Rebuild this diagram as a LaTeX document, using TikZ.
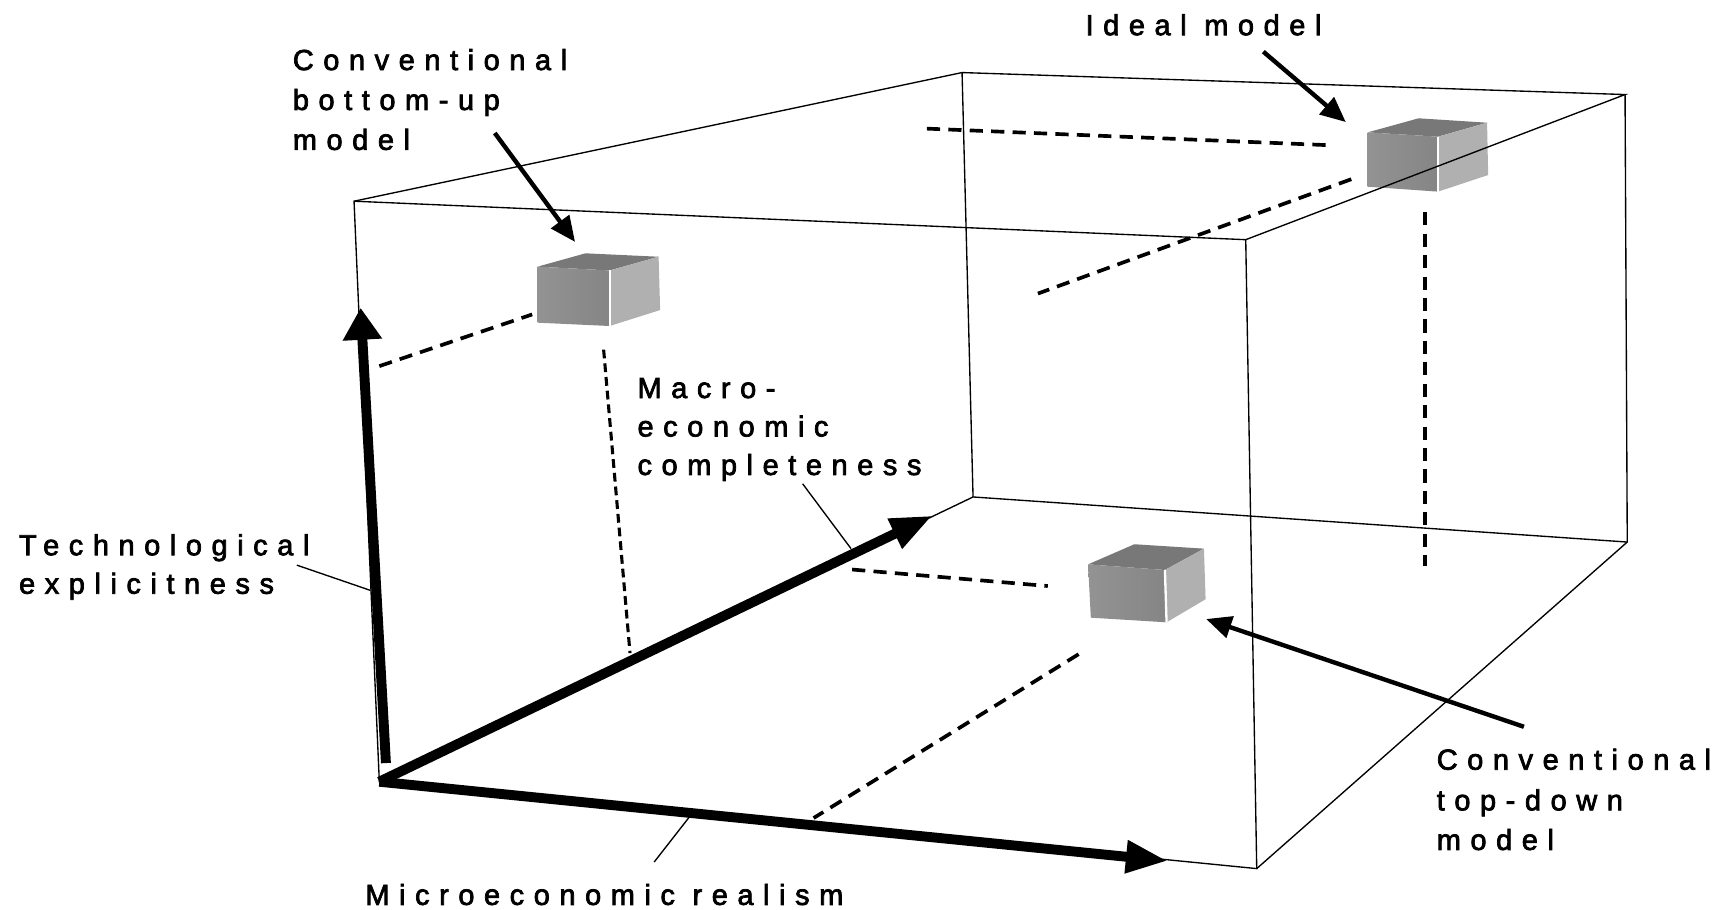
\documentclass[tikz,border=0pt]{standalone}
\usepackage{fontspec}
\usetikzlibrary{arrows.meta}
\newfontfamily\lblfont[LetterSpace=33, FakeBold=2.5]{Liberation Sans}
\definecolor{cubetop}{HTML}{787878}
\definecolor{cuberight}{HTML}{B0B0B0}
\definecolor{cubefrontL}{HTML}{939393}
\definecolor{cubefrontR}{HTML}{858585}
\newcommand{\drawcube}[7]{%
  \fill[cubetop] #1 -- #5 -- #6 -- #2 -- cycle;
  \fill[cuberight] #2 -- #6 -- #7 -- #3 -- cycle;
  \shade[left color=cubefrontL, right color=cubefrontR] #1 -- #2 -- #3 -- #4 -- cycle;
  \draw[white, line width=1.2pt] #2 -- #3;
}
\tikzset{
  edge/.style={line width=0.7pt, black},
  leader/.style={line width=0.7pt, black},
  axis/.style={line width=0.18cm, black},
  axisV/.style={axis, -{Triangle[length=0.58cm, width=0.68cm]}},
  axisD/.style={axis, -{Triangle[length=0.76cm, width=0.56cm]}},
  pointer/.style={line width=0.08cm, black, -{Triangle[length=0.46cm, width=0.4cm]}},
  guide/.style={line width=1.9pt, black, dash pattern=on 0.24cm off 0.15cm},
  guidefine/.style={line width=1.6pt, black, dash pattern=on 0.16cm off 0.09cm},
  lbl/.style={font=\lblfont\fontsize{15}{20}\selectfont, inner sep=0pt, anchor=base west},
}
\begin{document}
\begin{tikzpicture}[x=0.02cm, y=-0.02cm]
\useasboundingbox (0,0) rectangle (1568,827);
% box corners
\coordinate (O) at (345,711);
\coordinate (FTL) at (322,183);
\coordinate (FTR) at (1133,218);
\coordinate (FBR) at (1143,790);
\coordinate (BTL) at (875,66);
\coordinate (BTR) at (1478,86);
\coordinate (BBR) at (1480,493);
\coordinate (BBL) at (885,452);
% cubes
\drawcube{(489,242.5)}{(554.5,246)}{(554.5,296.5)}{(489,293.5)}{(532.5,230.4)}{(599,233.5)}{(600.4,282)}
\drawcube{(1243.9,120.4)}{(1307.9,124.3)}{(1307.9,174.3)}{(1243.6,169.8)}{(1290.2,107.6)}{(1352.5,111.6)}{(1353.5,159.2)}
\drawcube{(989.6,513.3)}{(1059.5,518.4)}{(1061,566)}{(992.1,561.8)}{(1031.7,495)}{(1095,499)}{(1096.5,545)}
% wireframe
\draw[edge] (FTL) -- (FTR) -- (FBR) -- (O) -- cycle;
\draw[edge] (FTL) -- (BTL) -- (BTR) -- (FTR);
\draw[edge] (BTR) -- (BBR) -- (FBR);
\draw[edge] (BTL) -- (BBL) -- (BBR);
\draw[edge] (BBL) -- (O);
% dashed guides
\coordinate (d1a) at (345,333); \coordinate (d1b) at (484,286);
\coordinate (d2a) at (549,318); \coordinate (d2b) at (573,594);
\coordinate (d3a) at (843,117); \coordinate (d3b) at (1207,132);
\coordinate (d4a) at (1229,163); \coordinate (d4b) at (944,267);
\coordinate (d5a) at (1296,193); \coordinate (d5b) at (1296,515);
\coordinate (d6a) at (775,518); \coordinate (d6b) at (953,533);
\coordinate (d7a) at (981,595); \coordinate (d7b) at (740,744);
\draw[guide] (d1a) -- (d1b);
\draw[guidefine] (d2a) -- (d2b);
\draw[guide] (d3a) -- (d3b);
\draw[guide] (d4a) -- (d4b);
\draw[guide] (d5a) -- (d5b);
\draw[guide] (d6a) -- (d6b);
\draw[guide] (d7a) -- (d7b);
% axes
\coordinate (Vbot) at (351,694);
\coordinate (Vtip) at (328,280);
\coordinate (Mtip) at (1062,783);
\coordinate (Ctip) at (848,469);
\draw[axisV] (Vbot) -- (Vtip);
\draw[axisD] (O) -- (Mtip);
\draw[axisD] (O) -- (Ctip);
% labels
\node[lbl] (bu1) at (266,63.7) {Conventional};
\node[lbl] (bu2) at (266,100) {bottom-up};
\node[lbl] (bu3) at (266,136.3) {model};
\node[lbl] (id1) at (987,32) {Ideal model};
\node[lbl] (ma1) at (579.5,362) {Macro-};
\node[lbl] (ma2) at (579.5,397) {economic};
\node[lbl] (ma3) at (579.5,432) {completeness};
\node[lbl] (te1) at (17,505) {Technological};
\node[lbl] (te2) at (17,540) {explicitness};
\node[lbl] (mi1) at (332,823) {Microeconomic realism};
\node[lbl] (td1) at (1306.4,700) {Conventional};
\node[lbl] (td2) at (1306.4,737) {top-down};
\node[lbl] (td3) at (1306.4,773) {model};
% leaders
\coordinate (teA) at (270,514); \coordinate (teB) at (337,537);
\coordinate (maA) at (730,440); \coordinate (maB) at (774,499);
\coordinate (miA) at (595,784); \coordinate (miB) at (627,743);
\draw[leader] (teA) -- (teB);
\draw[leader] (maA) -- (maB);
\draw[leader] (miA) -- (miB);
% model pointers
\coordinate (buA) at (450,121); \coordinate (buB) at (523,220);
\coordinate (idA) at (1149,47); \coordinate (idB) at (1224,111);
\coordinate (tdA) at (1386,661); \coordinate (tdB) at (1097,563);
\draw[pointer] (buA) -- (buB);
\draw[pointer] (idA) -- (idB);
\draw[pointer] (tdA) -- (tdB);
\end{tikzpicture}
\end{document}
